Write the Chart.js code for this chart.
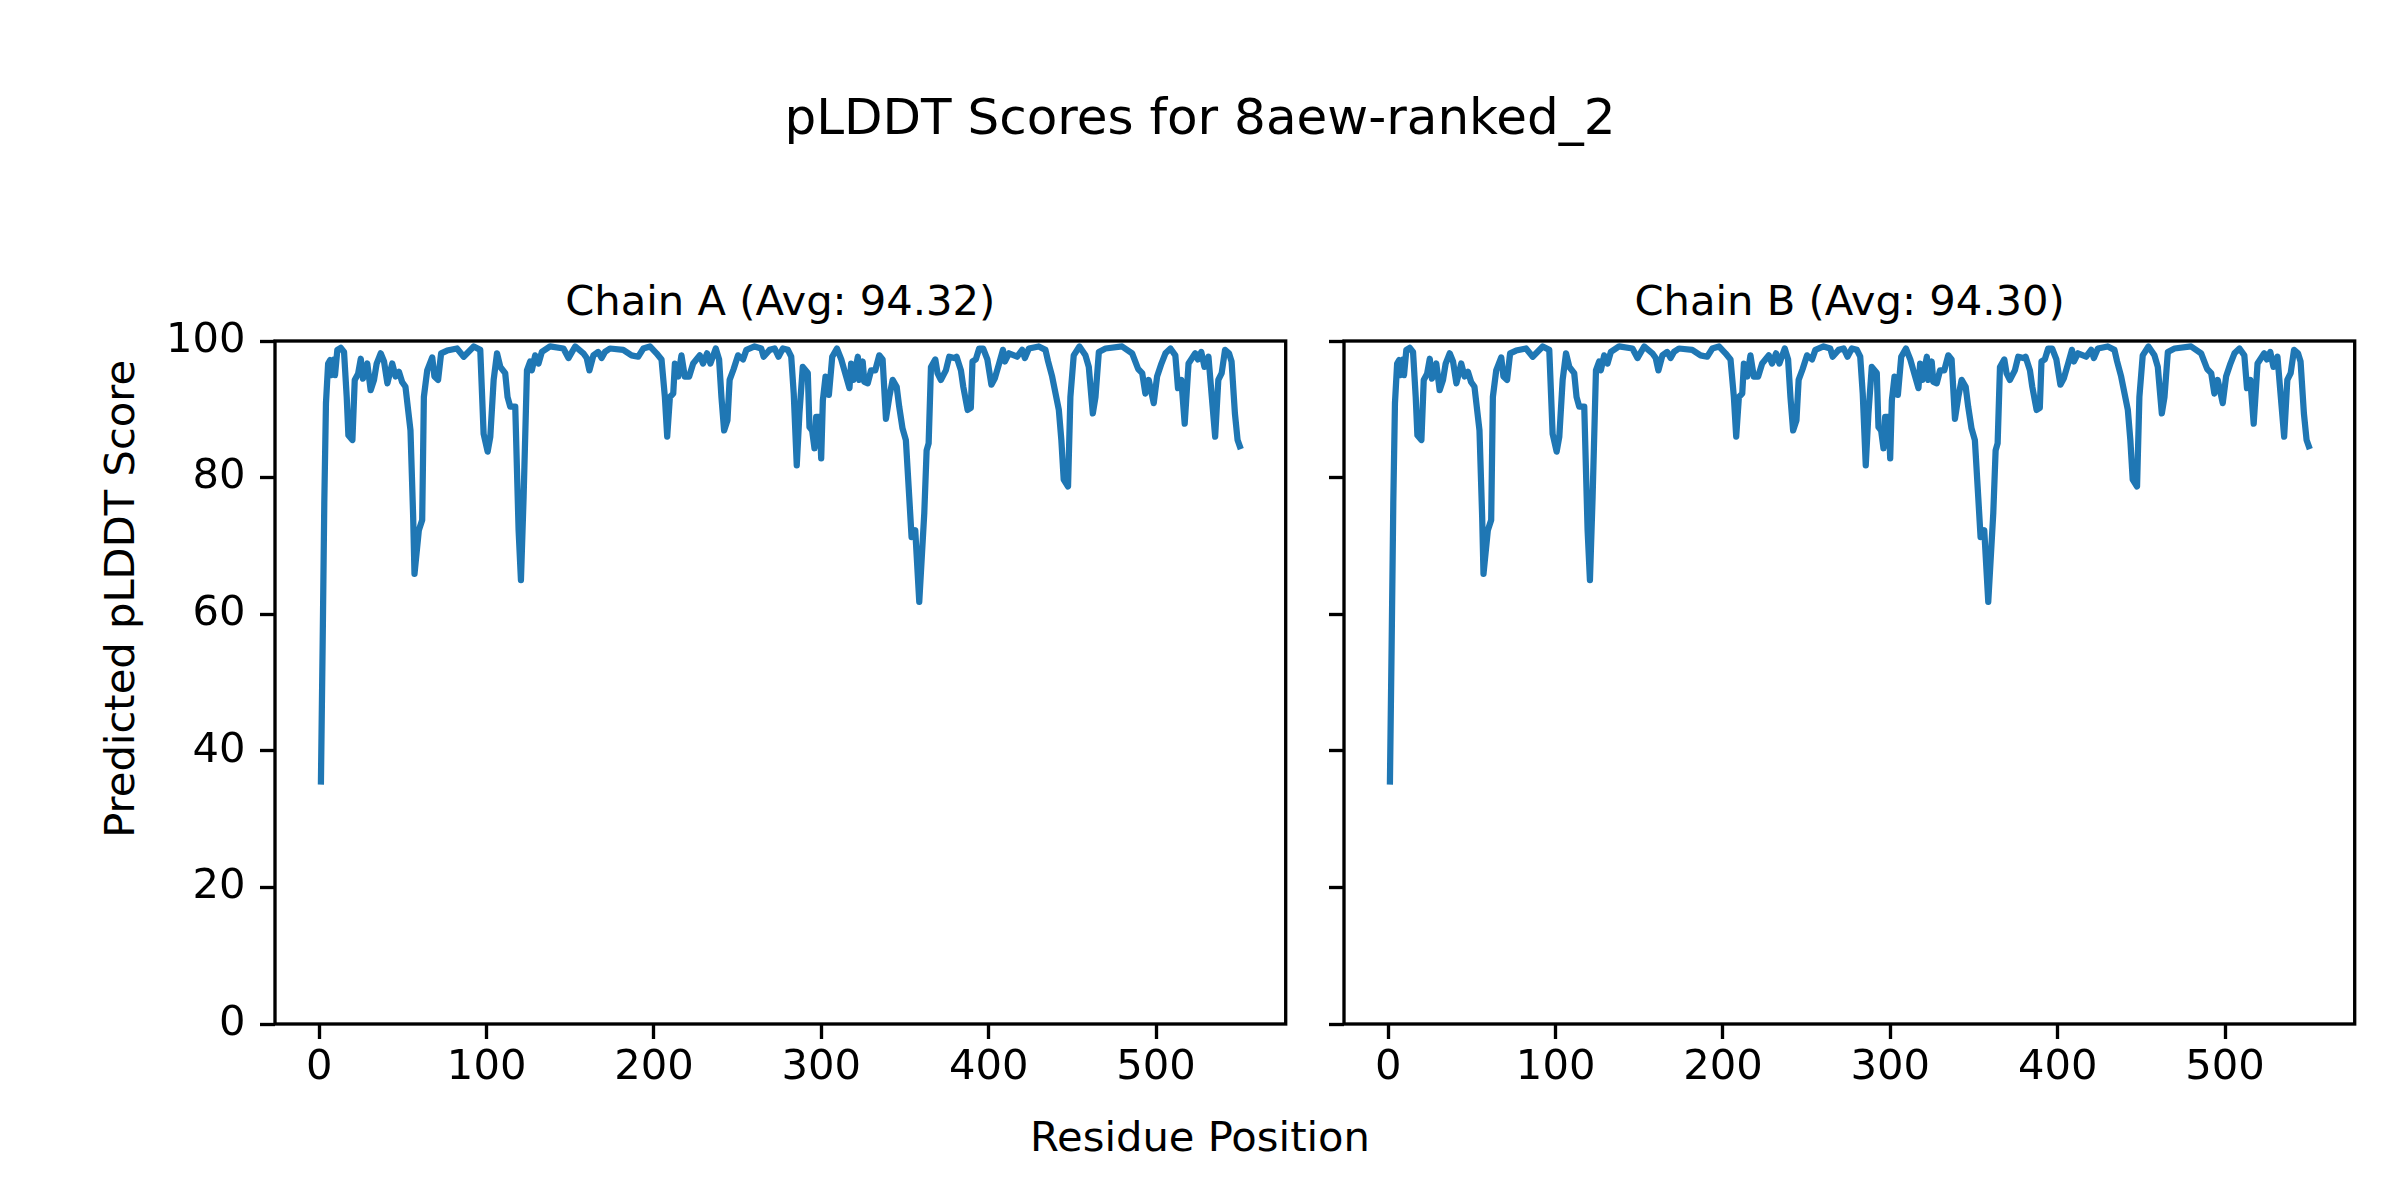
<!DOCTYPE html>
<html>
<head>
<meta charset="utf-8">
<title>pLDDT Scores for 8aew-ranked_2</title>
<script src="https://cdn.jsdelivr.net/npm/chart.js@4.4.1/dist/chart.umd.min.js"></script>
<style>
  html, body { margin: 0; padding: 0; background: #fff; }
  #fig { position: relative; width: 2400px; height: 1200px; overflow: hidden; font-family: 'DejaVu Sans', sans-serif; color: #000; }
  .txt { position: absolute; white-space: nowrap; text-align: center; }
  canvas { position: absolute; }
</style>
</head>
<body>
<div id="fig">
  <div class="txt" style="left:0;width:2400px;top:91.7px;font-size:50px;line-height:50px;">pLDDT Scores for 8aew-ranked_2</div>
  <div class="txt" style="left:280.3px;width:1000px;top:279.8px;font-size:41.67px;line-height:41.67px;">Chain A (Avg: 94.32)</div>
  <div class="txt" style="left:1349.6px;width:1000px;top:279.8px;font-size:41.67px;line-height:41.67px;">Chain B (Avg: 94.30)</div>
  <div class="txt" style="left:700px;width:1000px;top:1116.4px;font-size:41.67px;line-height:41.67px;">Residue Position</div>
  <div class="txt" style="left:-280.1px;width:800px;top:578.2px;font-size:41.67px;line-height:41.67px;transform:rotate(-90deg);">Predicted pLDDT Score</div>
  <canvas id="chartA" width="1160" height="860" style="left:150px;top:280px"></canvas>
  <canvas id="chartB" width="1160" height="860" style="left:1219.3px;top:280px"></canvas>
</div>
<script>
// values (residue index, pLDDT)
const residueA = [1, 2, 3, 4, 5.3, 6.5, 7.4, 8.8, 9.4, 10.8, 12.8, 14.8, 16.4, 17.4, 19.8, 21.2, 23.2, 24.8, 26.1, 28.7,
  30.7, 32.7, 34.3, 36.7, 38.7, 40.7, 43.6, 45.6, 47.6, 49.5, 51.5, 54.5, 56.1, 56.9, 59.5, 61.5, 62.5, 64.5, 67.5, 68.8,
  71, 72.8, 76.4, 82.3, 86.3, 92.3, 96.2, 98.2, 100.6, 102.2, 104.2, 106.2, 108.2, 111.1, 112.5, 114.1, 117.1, 119.1, 120.5, 122.1,
  124.1, 126, 127, 129, 131, 133, 137.9, 145.9, 148.9, 152.9, 157.8, 159.8, 161.4, 163.8, 166.7, 168.7, 170.7, 173.7, 181.6, 186.6,
  190.6, 193.6, 197.6, 201.5, 204.5, 206.5, 207.9, 209.5, 211.5, 212.5, 214.5, 216.4, 218.4, 221, 223.4, 227.4, 229.3, 231.7, 233.7, 236.9,
  238.9, 240.3, 241.9, 243.9, 245.2, 247.6, 250.2, 253.2, 255.2, 260.1, 264.1, 265.5, 269.1, 272.1, 274.4, 277, 280, 282, 283.5, 285.3,
  286.9, 288.9, 291.9, 292.9, 294.5, 295.9, 296.9, 298.9, 299.9, 300.9, 302.5, 304.5, 306.5, 309.3, 311.9, 314.8, 316.8, 317.8, 319.2, 321.8,
  322.7, 324.7, 325.7, 327.7, 329.7, 332.2, 334.6, 336.6, 338.6, 340.6, 342.6, 345, 346.5, 348.5, 350.5, 352.5, 353.9, 356.1, 358.5, 361.5,
  362.9, 364.1, 365.5, 368.1, 369.4, 371.4, 374.4, 376.4, 379.4, 380.8, 383.4, 384.8, 387.4, 389.3, 390.3, 392.3, 394.3, 396.7, 399.2, 401.6,
  403.6, 406.2, 408.5, 409.7, 412.1, 417, 420, 421.6, 424, 429.9, 433.9, 435.5, 437.9, 441.9, 443.4, 444.8, 447.4, 448.8, 450.8, 454.2,
  457.8, 459.8, 462.2, 463.8, 465.8, 469.8, 479.7, 485.7, 489.3, 491.7, 493.6, 495.6, 498.6, 500.6, 503.2, 505.6, 508.6, 511.5, 513.1, 515.1,
  517.1, 519.4, 523.4, 525, 527, 528.9, 531.3, 533.3, 535.3, 537.2, 539.2, 541.2, 543.6, 545.1, 547.1, 548.7, 550];
const plddtA = [35.5, 55.2, 76.2, 90.9, 96.7, 97.2, 95.0, 97.3, 95.0, 98.7, 99.0, 98.4, 91.8, 86.2, 85.5, 94.3, 95.2, 97.4, 94.5, 96.7,
  92.8, 94.3, 96.7, 98.2, 97.0, 93.8, 96.7, 94.8, 95.5, 94.0, 93.3, 86.9, 74.3, 65.9, 72.3, 73.8, 91.8, 95.7, 97.6, 94.8,
  94.3, 98.2, 98.6, 98.9, 97.7, 99.2, 98.7, 86.4, 83.8, 86.0, 94.3, 98.2, 96.2, 95.3, 91.8, 90.4, 90.4, 72.3, 65.0, 77.2,
  95.7, 97.0, 95.7, 97.9, 96.7, 98.4, 99.2, 98.9, 97.5, 99.2, 98.2, 97.5, 95.7, 97.9, 98.4, 97.5, 98.4, 98.9, 98.7, 97.9,
  97.7, 98.9, 99.2, 98.2, 97.3, 91.8, 86.0, 91.8, 92.3, 96.7, 94.8, 97.9, 94.8, 94.8, 96.7, 97.9, 96.7, 98.2, 96.7, 98.9,
  97.3, 91.8, 86.9, 88.4, 94.3, 95.9, 97.9, 97.3, 98.7, 99.2, 98.9, 97.7, 98.7, 98.9, 97.7, 98.9, 98.7, 97.7, 92.3, 81.8,
  89.4, 96.2, 95.3, 87.4, 86.9, 84.3, 88.9, 88.9, 82.8, 91.3, 94.8, 92.1, 97.7, 98.9, 97.3, 94.8, 93.1, 96.7, 94.3, 97.7,
  94.3, 97.0, 94.0, 93.8, 95.7, 95.7, 97.9, 97.3, 88.6, 91.8, 94.3, 93.3, 90.4, 87.2, 85.5, 77.2, 71.3, 72.3, 61.8, 74.8,
  84.0, 85.0, 96.2, 97.3, 95.3, 94.3, 95.7, 97.7, 97.5, 97.7, 95.7, 93.3, 89.9, 90.2, 97.0, 97.3, 98.9, 98.9, 97.3, 93.6,
  94.5, 96.7, 98.7, 97.0, 98.2, 97.7, 98.7, 97.5, 98.9, 99.2, 98.7, 97.0, 94.8, 89.9, 85.5, 79.7, 78.7, 91.8, 97.9, 99.2,
  97.9, 96.2, 89.4, 91.8, 98.4, 98.9, 99.2, 98.2, 95.9, 95.3, 92.3, 94.3, 90.9, 94.8, 96.7, 98.2, 98.9, 97.9, 93.1, 94.3,
  87.9, 96.7, 98.2, 97.3, 98.4, 96.2, 97.7, 91.8, 86.0, 94.3, 95.3, 98.7, 98.2, 97.0, 89.4, 85.5, 84.6];
// chain B reads the same as chain A at this resolution
const residueB = residueA;
const plddtB = plddtA;

const xTicks = [0, 100, 200, 300, 400, 500];
const yTicks = [0, 20, 40, 60, 80, 100];

const tickFont = { family: 'DejaVu Sans', size: 41.67 };

const framePlugin = {
  id: 'frame',
  afterDatasetsDraw(chart) {
    const { ctx, chartArea: a } = chart;
    ctx.save();
    ctx.strokeStyle = '#000';
    ctx.lineWidth = 3.33;
    ctx.strokeRect(a.left, a.top, a.right - a.left, a.bottom - a.top);
    ctx.restore();
  }
};

function makeChart(id, xs, ys, showYLabels) {
  return new Chart(document.getElementById(id), {
    type: 'line',
    data: {
      datasets: [{
        data: xs.map((x, i) => ({ x: x, y: ys[i] })),
        borderColor: '#1f77b4',
        borderWidth: 6.25,
        borderJoinStyle: 'round',
        borderCapStyle: 'square',
        pointRadius: 0,
        tension: 0,
        fill: false
      }]
    },
    options: {
      responsive: false,
      animation: false,
      devicePixelRatio: 1,
      layout: { padding: { top: 61, right: 24.3, left: 0, bottom: 0 } },
      plugins: { legend: { display: false }, tooltip: { enabled: false } },
      scales: {
        x: {
          type: 'linear',
          min: -26.45,
          max: 577.45,
          afterBuildTicks: (s) => { s.ticks = xTicks.map(v => ({ value: v })); },
          afterFit: (s) => { s.height = 116; },
          border: { display: false },
          grid: { drawOnChartArea: false, drawTicks: true, tickLength: 15, tickWidth: 3.33, tickColor: '#000' },
          ticks: { font: tickFont, color: '#000', padding: 4.3, maxRotation: 0, autoSkip: false }
        },
        y: {
          min: 0,
          max: 100,
          afterBuildTicks: (s) => { s.ticks = yTicks.map(v => ({ value: v })); },
          afterFit: (s) => { s.width = 125; },
          border: { display: false },
          grid: { drawOnChartArea: false, drawTicks: true, tickLength: 15, tickWidth: 3.33, tickColor: '#000' },
          ticks: {
            font: tickFont, color: '#000', padding: 14.6, autoSkip: false,
            callback: (v) => showYLabels ? String(v) : ''
          }
        }
      }
    },
    plugins: [framePlugin]
  });
}

makeChart('chartA', residueA, plddtA, true);
makeChart('chartB', residueB, plddtB, false);
</script>
</body>
</html>
